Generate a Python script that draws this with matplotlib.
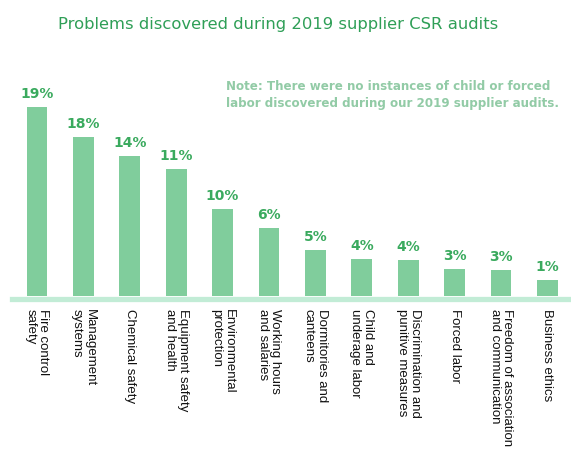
import matplotlib.pyplot as plt
from matplotlib import font_manager

# Categories and values (bar heights as drawn, label text as printed)
categories = [
    "Fire control\nsafety",
    "Management\nsystems",
    "Chemical safety",
    "Equipment safety\nand health",
    "Environmental\nprotection",
    "Working hours\nand salaries",
    "Dormitories and\ncanteens",
    "Child and\nunderage labor",
    "Discrimination and\npunitive measures",
    "Forced labor",
    "Freedom of association\nand communication",
    "Business ethics",
]
bar_heights = [18.9, 15.9, 14.0, 12.7, 8.7, 6.8, 4.6, 3.7, 3.6, 2.7, 2.6, 1.6]
pct_labels = ["19%", "18%", "14%", "11%", "10%", "6%", "5%", "4%", "4%", "3%", "3%", "1%"]

title = "Problems discovered during 2019 supplier CSR audits"
note = ("Note: There were no instances of child or forced\n"
        "labor discovered during our 2019 supplier audits.")

bar_color = "#80cd9c"
pct_color = "#3aaa5e"
title_color = "#2f9f57"
note_color = "#92cba6"
band_color = "#c2ecd6"

# pick a narrow font for the category labels if there is one
names = {f.name for f in font_manager.fontManager.ttflist}
cat_font = "Liberation Sans Narrow" if "Liberation Sans Narrow" in names else "Liberation Sans"
cat_size = 11.6 if cat_font == "Liberation Sans Narrow" else 9.5

W, H = 571, 457
fig = plt.figure(figsize=(W / 100, H / 100), dpi=100)

# axes: bar baseline at y=296 px, 10 px per unit, first bar at x=37 px, 46.4 px apart
left_px, right_px = 12, 571
base_px, top_px = 296, 56
ax = fig.add_axes([left_px / W, (H - base_px) / H,
                   (right_px - left_px) / W, (base_px - top_px) / H])
x = list(range(len(categories)))
ax.bar(x, bar_heights, width=0.45, color=bar_color, zorder=2)
ax.set_xlim((left_px - 37) / 46.4, (right_px - 37) / 46.4)
ax.set_ylim(0, (base_px - top_px) / 10)
ax.axis("off")

# light band under the bars
ax.axhline(-0.25, color=band_color, linewidth=3.8, clip_on=False, zorder=1)

for i, h in enumerate(bar_heights):
    ax.annotate(pct_labels[i], (i, h), xytext=(0, 4.5), textcoords="offset points",
                ha="center", va="bottom", fontsize=10, fontweight="bold",
                color=pct_color, family="DejaVu Sans")
    ax.annotate(categories[i], (i, 0), xytext=(0, -9.5), textcoords="offset points",
                ha="center", va="top", rotation=-90, rotation_mode="default",
                multialignment="left", fontsize=cat_size, family=cat_font,
                color="#111111", linespacing=1.1, annotation_clip=False)

fig.text(278 / W, 1 - 24 / H, title, ha="center", va="center",
         fontsize=11.8, color=title_color, family="DejaVu Sans")
fig.text(559 / W, 1 - 94.5 / H, note, ha="right", va="center",
         fontsize=8.6, fontweight="bold", color=note_color,
         family="DejaVu Sans", linespacing=1.4, multialignment="left")

fig.savefig("out.png", dpi=100, facecolor="white")
